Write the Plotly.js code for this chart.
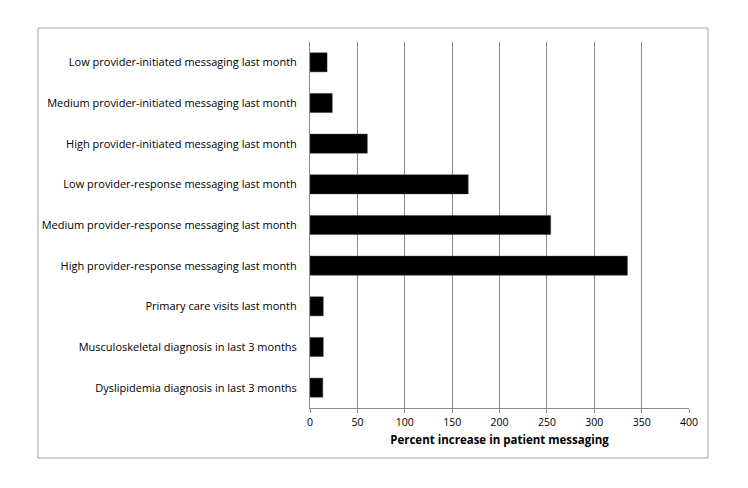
<!DOCTYPE html>
<html><head><meta charset="utf-8">
<script src="https://cdn.plot.ly/plotly-3.0.1.min.js"></script>
<style>html,body{margin:0;padding:0;background:#fff;}#chart{width:748px;height:488px;}</style>
</head><body><div id="chart"></div>
<script>
var categories = [
  "Low provider-initiated messaging last month",
  "Medium provider-initiated messaging last month",
  "High provider-initiated messaging last month",
  "Low provider-response messaging last month",
  "Medium provider-response messaging last month",
  "High provider-response messaging last month",
  "Primary care visits last month",
  "Musculoskeletal diagnosis in last 3 months",
  "Dyslipidemia diagnosis in last 3 months"
];
var values = [18, 23.5, 60.5, 167, 254, 335, 14, 14, 13.5];
var xTicks = [0, 50, 100, 150, 200, 250, 300, 350, 400];

var trace = {
  type: 'bar', orientation: 'h',
  x: values, y: categories,
  marker: {color: '#000000', line: {color: '#404040', width: 0.5}},
  hoverinfo: 'none'
};
var font = "Open Sans, Liberation Sans, sans-serif";
var layout = {
  width: 748, height: 488,
  margin: {l: 310, r: 59, t: 42, b: 80},
  paper_bgcolor: '#fff', plot_bgcolor: '#fff',
  showlegend: false,
  bargap: 0.53,
  font: {family: font, size: 11, color: '#000'},
  xaxis: {
    range: [0, 400], tickvals: xTicks, ticktext: xTicks.map(String),
    showgrid: true, gridcolor: '#8c8c8c', gridwidth: 1,
    showline: true, linecolor: '#8c8c8c', linewidth: 1,
    ticks: 'outside', ticklen: 4, tickcolor: '#8c8c8c',
    zeroline: false, fixedrange: true,
    tickfont: {family: font, size: 10.5, color: '#000'},
    title: {text: 'Percent increase in patient messaging', font: {family: font, size: 11.5, color: '#000', weight: 'bold'}, standoff: 8}
  },
  yaxis: {
    autorange: 'reversed', showline: true, linecolor: '#8c8c8c', linewidth: 1,
    showgrid: false, zeroline: false, ticks: '', ticklabelstandoff: 10,
    tickfont: {family: font, size: 11, color: '#000'}, fixedrange: true
  },
  shapes: [{
    type: 'rect', xref: 'paper', yref: 'paper',
    x0: -0.7177, x1: 1.0501, y0: -0.1366, y1: 1.0383,
    line: {color: '#a6a6a6', width: 1}, fillcolor: 'rgba(0,0,0,0)', layer: 'below'
  }]
};
Plotly.newPlot('chart', [trace], layout, {displayModeBar: false, staticPlot: true});
</script></body></html>
